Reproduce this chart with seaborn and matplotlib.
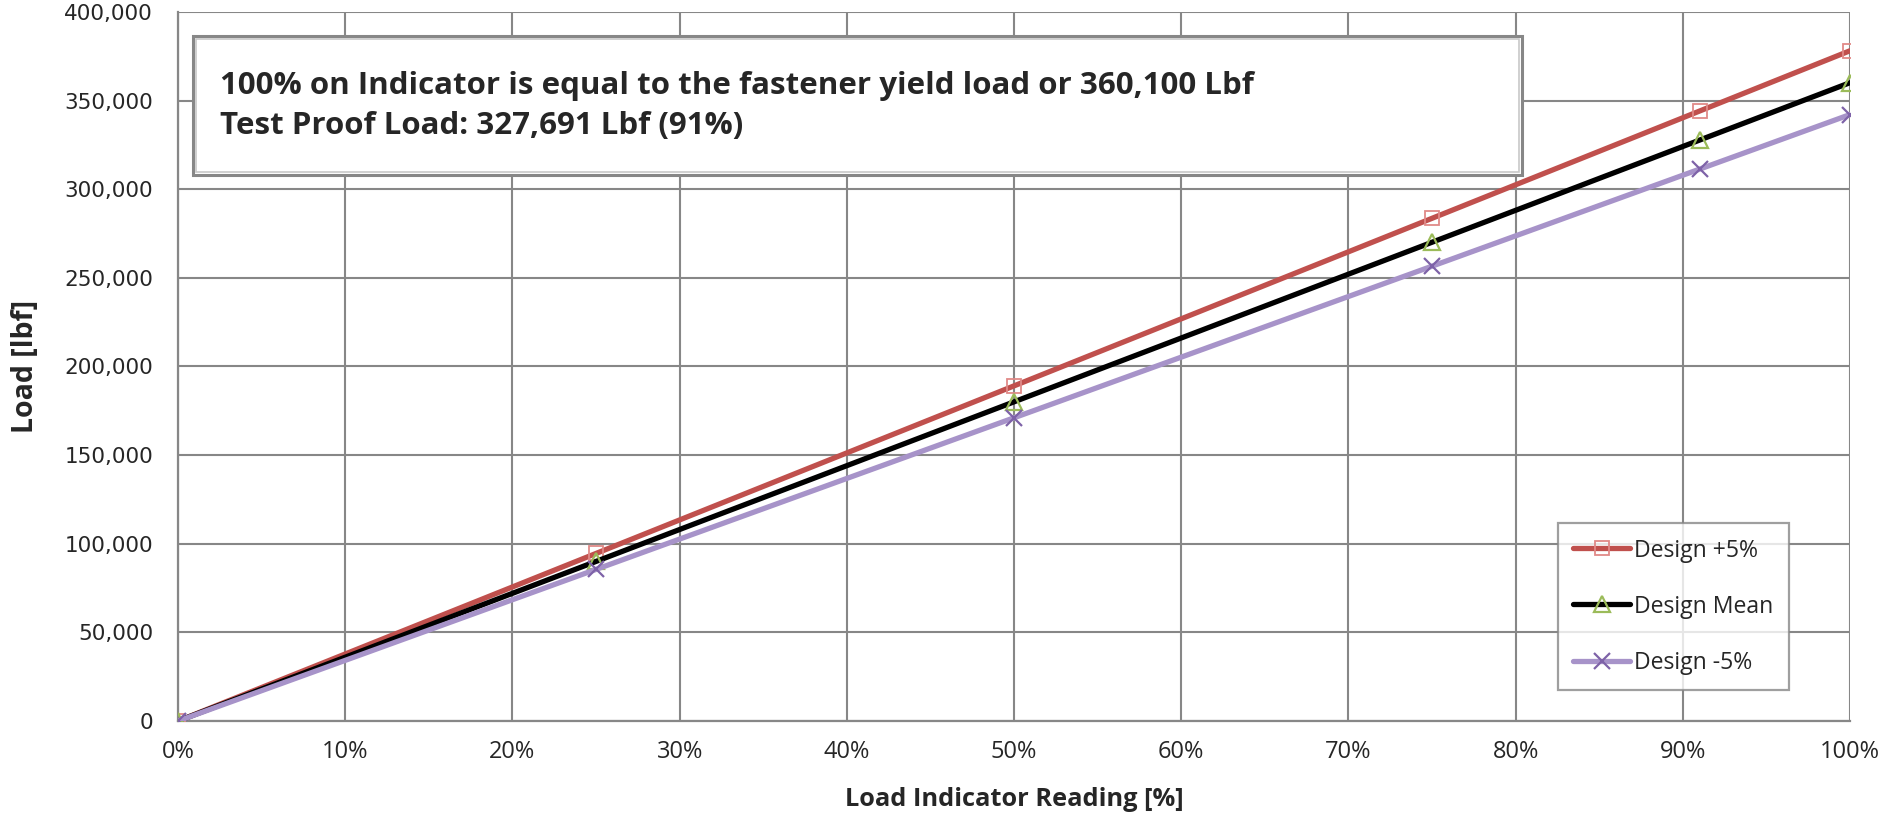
import seaborn as sns
import matplotlib.pyplot as plt
import matplotlib.ticker as mticker
from matplotlib.patches import Rectangle

# Load indicator readings [%] and loads [lbf]
reading = [0, 25, 50, 75, 91, 100]
design_plus = [0, 94526, 189053, 283579, 344076, 378105]
design_mean = [0, 90025, 180050, 270075, 327691, 360100]
design_minus = [0, 85524, 171048, 256571, 311306, 342095]

load_ticks = [0, 50000, 100000, 150000, 200000, 250000, 300000, 350000, 400000]

note_lines = [
    "100% on Indicator is equal to the fastener yield load or 360,100 Lbf",
    "Test Proof Load: 327,691 Lbf (91%)",
]

sns.set_style("white")
plt.rcParams["font.family"] = ["Open Sans", "DejaVu Sans"]

fig = plt.figure(figsize=(19, 8.16), dpi=100)
ax = fig.add_axes([0.0937, 0.1164, 0.88, 0.869])

grey = "#878787"

sns.lineplot(x=reading, y=design_plus, ax=ax, color="#C0504D", lw=3.8,
             marker="s", markersize=10, markerfacecolor="none",
             markeredgecolor="#E08A88", markeredgewidth=1.3, label="Design +5%", zorder=4)
sns.lineplot(x=reading, y=design_mean, ax=ax, color="black", lw=3.8,
             marker="^", markersize=11, markerfacecolor="none",
             markeredgecolor="#9BBB59", markeredgewidth=1.6, label="Design Mean", zorder=5)
sns.lineplot(x=reading, y=design_minus, ax=ax, color="#A793C9", lw=3.8,
             marker="x", markersize=11, markeredgecolor="#7E62A8",
             markeredgewidth=1.6, label="Design -5%", zorder=6)

ax.set_xlim(0, 100)
ax.set_ylim(0, 400000)
ax.xaxis.set_major_locator(mticker.MultipleLocator(10))
ax.xaxis.set_minor_locator(mticker.MultipleLocator(2))
ax.xaxis.set_major_formatter(mticker.FuncFormatter(lambda v, p: f"{v:.0f}%"))
ax.set_yticks(load_ticks, [f"{v:,}" for v in load_ticks],
              fontfamily="DejaVu Sans", fontsize=15.5)
ax.yaxis.set_minor_locator(mticker.MultipleLocator(10000))

ax.grid(True, which="major", color=grey, lw=1.5)
for side in ["top", "right"]:
    ax.spines[side].set_visible(False)
for side in ["left", "bottom"]:
    ax.spines[side].set_color(grey)
    ax.spines[side].set_linewidth(1.6)

ax.tick_params(axis="both", which="both", direction="out", color=grey, width=1.4)
ax.tick_params(axis="y", which="major", length=6, pad=12)
ax.tick_params(axis="y", which="minor", length=5)
ax.tick_params(axis="x", which="major", length=6, labelsize=17, pad=8)
ax.tick_params(axis="x", which="minor", length=4.5)

ax.set_xlabel("Load Indicator Reading [%]", fontsize=18.3, fontweight="bold")
ax.set_ylabel("Load [lbf]", fontsize=20.5, fontweight="bold")
ax.xaxis.set_label_coords(0.5, -0.111)
ax.yaxis.set_label_coords(-0.0915, 0.5)
ax.xaxis.label.set_va("center")
ax.yaxis.label.set_va("center")

leg = ax.legend(loc="upper left", bbox_to_anchor=(0.820, 0.359), bbox_transform=fig.transFigure,
                frameon=True, fancybox=False, edgecolor=grey, fontsize=16.6,
                handlelength=2.47, handletextpad=0.15, labelspacing=1.39,
                borderpad=0.67, borderaxespad=0)
leg.get_frame().set_linewidth(1.6)

# annotation box (double border)
box = Rectangle((0.1016, 0.785), 0.6995, 0.171, transform=fig.transFigure,
                facecolor="white", edgecolor=grey, lw=2.2, zorder=10)
fig.patches.append(box)
inner = Rectangle((0.1030, 0.789), 0.6967, 0.163, transform=fig.transFigure,
                  facecolor="none", edgecolor="#C8C8C8", lw=1.2, zorder=10)
fig.patches.append(inner)
fig.text(0.116, 0.894, note_lines[0], fontsize=22.5, fontweight="bold", va="center", zorder=11)
fig.text(0.116, 0.846, note_lines[1], fontsize=22.5, fontweight="bold", va="center", zorder=11)

fig.savefig("out.png", dpi=100)
